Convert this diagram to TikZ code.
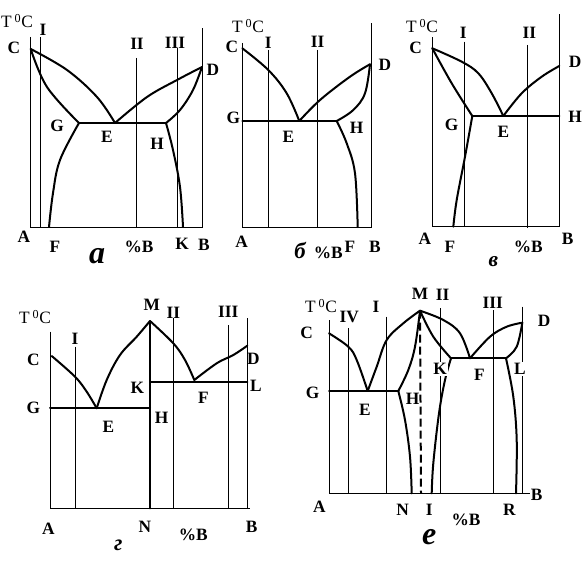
\documentclass[tikz,border=0pt]{standalone}
\usepackage{fontspec}
\setmainfont{Liberation Serif}
\begin{document}
\begin{tikzpicture}[x=0.75pt,y=-0.75pt,
  axis/.style={line width=0.75pt},
  curve/.style={line width=1.5pt, line join=round, line cap=round},
  lbl/.style={font=\bfseries\fontsize{13}{14}\selectfont, inner sep=0pt},
  wlbl/.style={lbl, fill=white, inner sep=1pt},
  tlbl/.style={font=\fontsize{13}{14}\selectfont, inner sep=0pt},
  plbl/.style={font=\bfseries\itshape\fontsize{#1}{#1}\selectfont, inner sep=0pt},
  sm/.style={smooth, tension=0.6}]
\useasboundingbox (0,0) rectangle (588,567);
\newcommand{\tdeg}{T\,\textsuperscript{0}C}

% ================= panel a =================
\coordinate (aC) at (30.7,49);
\coordinate (aD) at (202,67);
\coordinate (aG) at (79,123);
\coordinate (aE) at (115,123);
\coordinate (aH) at (166,123);
\coordinate (aF) at (49,227);
\coordinate (aK) at (183,227);
\coordinate (aA) at (30,227);
\coordinate (aB) at (202,227);
\draw[axis] (30,37) -- (aA) -- (aB) -- (202,28);
\draw[axis] (40,37) -- (40,228);
\draw[axis] (136,58) -- (136,228);
\draw[axis] (177,48) -- (177,227);
\draw[curve] plot[sm] coordinates {(aC) (67,70) (97,97) (aE)};
\draw[curve] plot[sm] coordinates {(aC) (47,87) (aG)};
\draw[curve] plot[sm] coordinates {(aG) (60,160) (53,193) (aF)};
\draw[curve] plot[sm] coordinates {(aE) (147,97) (177,80) (aD)};
\draw[curve] plot[sm] coordinates {(aH) (180,110) (193,90) (aD)};
\draw[curve] plot[sm] coordinates {(aH) (173,150) (180,187) (aK)};
\draw[curve] (aG) -- (aH);
\node[tlbl] (aT) at (17,21) {\tdeg};
\node[lbl] (aI) at (43,30) {I};
\node[lbl] (aCl) at (14,48) {C};
\node[lbl] (aII) at (137,44) {II};
\node[lbl] (aIII) at (175,43) {III};
\node[lbl] (aDl) at (213,70) {D};
\node[lbl] (aGl) at (57,126) {G};
\node[lbl] (aEl) at (107,137) {E};
\node[lbl] (aHl) at (157,144) {H};
\node[lbl] (aAl) at (24,237) {A};
\node[lbl] (aFl) at (55,247) {F};
\node[lbl] (aBp) at (139,247) {\%B};
\node[lbl] (aKl) at (182,244) {K};
\node[lbl] (aBl) at (204,245) {B};
\node[plbl=24] (aP) at (97,256) {а};

% ================= panel b =================
\coordinate (bC) at (242.3,48.3);
\coordinate (bD) at (370,64.3);
\coordinate (bG) at (242.3,121);
\coordinate (bE) at (299.3,121);
\coordinate (bH) at (336.7,121);
\coordinate (bF) at (357.7,227);
\coordinate (bA) at (242.3,227);
\coordinate (bB) at (371,227);
\draw[axis] (242.3,43) -- (bA) -- (bB) -- (371,23);
\draw[axis] (268.3,50) -- (268.3,227);
\draw[axis] (317.7,50) -- (317.7,227);
\draw[curve] plot[sm] coordinates {(bC) (268.3,70) (286.7,93.3) (bE)};
\draw[curve] plot[sm] coordinates {(bE) (320,100) (350,76.7) (bD)};
\draw[curve] plot[sm] coordinates {(bH) (353.3,110) (365,93.3) (bD)};
\draw[curve] plot[sm] coordinates {(bH) (346.7,143.3) (355,173.3) (bF)};
\draw[curve] (bG) -- (bH);
\node[tlbl] (bT) at (248,26) {\tdeg};
\node[lbl] (bCl) at (232,47) {C};
\node[lbl] (bI) at (268.3,43.3) {I};
\node[lbl] (bII) at (317.7,41.7) {II};
\node[lbl] (bDl) at (385,65) {D};
\node[lbl] (bGl) at (233.3,118.3) {G};
\node[lbl] (bEl) at (288.3,137.3) {E};
\node[lbl] (bHl) at (356.7,128.3) {H};
\node[lbl] (bAl) at (241.7,241.7) {A};
\node[plbl=17] (bP) at (300,250) {б};
\node[lbl] (bBp) at (328.3,253.3) {\%B};
\node[lbl] (bFl) at (350,246.7) {F};
\node[lbl] (bBl) at (375,247.3) {B};

% ================= panel v =================
\coordinate (vC) at (432.3,48.3);
\coordinate (vD) at (559.3,66);
\coordinate (vG) at (472.3,116);
\coordinate (vE) at (503.3,116);
\coordinate (vH) at (559.3,116);
\coordinate (vF) at (453.3,226.7);
\coordinate (vA) at (432.3,226.7);
\coordinate (vB) at (559.3,226.7);
\draw[axis] (432.3,37.3) -- (vA) -- (vB) -- (559.3,14);
\draw[axis] (464.3,41.7) -- (464.3,226.7);
\draw[axis] (527.3,45) -- (527.3,228);
\draw[curve] plot[sm] coordinates {(vC) (461.7,61.7) (478.3,73.3) (491.7,93.3) (vE)};
\draw[curve] plot[sm] coordinates {(vC) (451.7,83.3) (vG)};
\draw[curve] plot[sm] coordinates {(vG) (465,156.7) (456.7,200) (vF)};
\draw[curve] plot[sm] coordinates {(vE) (521.7,93.3) (541.7,76.7) (vD)};
\draw[curve] (vG) -- (vH);
\node[tlbl] (vT) at (422,26) {\tdeg};
\node[lbl] (vCl) at (415.7,48.3) {C};
\node[lbl] (vI) at (463.3,33.3) {I};
\node[lbl] (vII) at (529.3,33.3) {II};
\node[lbl] (vDl) at (575,61.7) {D};
\node[lbl] (vGl) at (451.7,125) {G};
\node[lbl] (vEl) at (503.3,131.7) {E};
\node[lbl] (vHl) at (575,116.7) {H};
\node[lbl] (vAl) at (425,238.3) {A};
\node[lbl] (vFl) at (450,246.7) {F};
\node[lbl] (vBp) at (528.3,246.7) {\%B};
\node[lbl] (vBl) at (567.7,239.3) {B};
\node[plbl=16] (vP) at (493.3,262) {в};

% ================= panel g =================
\coordinate (gC) at (51.7,356);
\coordinate (gE) at (96.7,408.3);
\coordinate (gG) at (50,408.3);
\coordinate (gH) at (150,408.3);
\coordinate (gM) at (150,321);
\coordinate (gK) at (150,381.7);
\coordinate (gL) at (247.3,381.7);
\coordinate (gF) at (194.3,380);
\coordinate (gD) at (247.3,345.7);
\coordinate (gA) at (50,508.3);
\coordinate (gN) at (150,508.3);
\coordinate (gB) at (250,508.3);
\draw[axis] (50,331.7) -- (gA) -- (gB);
\draw[axis] (247.3,318.3) -- (247.3,508.3);
\draw[axis] (75,346.7) -- (75,508.3);
\draw[axis] (173.3,318.3) -- (173.3,508.3);
\draw[axis] (228.3,325) -- (228.3,508.3);
\draw[curve] (gM) -- (gN);
\draw[curve] plot[sm] coordinates {(gC) (75,376.7) (86.7,391.7) (gE)};
\draw[curve] plot[sm] coordinates {(gE) (106.7,380) (120,355) (136.7,336.7) (gM)};
\draw[curve] plot[sm] coordinates {(gM) (173.3,343.3) (185,360) (gF)};
\draw[curve] plot[sm] coordinates {(gF) (216.7,363.3) (233.3,355) (gD)};
\draw[curve] (gG) -- (gH);
\draw[curve] (gK) -- (gL);
\node[tlbl] (gT) at (35,317) {\tdeg};
\node[lbl] (gI) at (75,339.3) {I};
\node[lbl] (gCl) at (33.3,360) {C};
\node[lbl] (gGl) at (33.3,408.3) {G};
\node[lbl] (gEl) at (108.3,426.7) {E};
\node[lbl] (gMl) at (151.7,305) {M};
\node[lbl] (gII) at (173.3,313.3) {II};
\node[lbl] (gIII) at (228.3,311.7) {III};
\node[lbl] (gDl) at (253.3,359.3) {D};
\node[lbl] (gLl) at (256,386) {L};
\node[lbl] (gKl) at (137.3,388.3) {K};
\node[lbl] (gFl) at (203.3,398.3) {F};
\node[lbl] (gHl) at (161.7,418.3) {H};
\node[lbl] (gAl) at (48.3,528.3) {A};
\node[lbl] (gNl) at (145,526.7) {N};
\node[lbl] (gBp) at (193.3,535) {\%B};
\node[lbl] (gBl) at (251.7,526.7) {B};
\node[plbl=17] (gP) at (118.3,545) {г};

% ================= panel e =================
\coordinate (eM) at (420,310.7);
\coordinate (eC) at (329,333.3);
\coordinate (eE) at (367.7,391);
\coordinate (eG) at (329,391);
\coordinate (eH) at (398.3,391);
\coordinate (eK) at (451,358.3);
\coordinate (eL) at (506,358.3);
\coordinate (eF) at (470,358.3);
\coordinate (eD) at (522.3,322.7);
\coordinate (eN) at (411.7,493.3);
\coordinate (eI) at (431.7,493.3);
\coordinate (eR) at (516,493.3);
\coordinate (eA) at (329,493.3);
\coordinate (eB) at (530,493.3);
\draw[axis] (329,320) -- (eA) -- (eB);
\draw[axis] (522.3,306.7) -- (522.3,493.3);
\draw[axis] (348.3,328.3) -- (348.3,493.3);
\draw[axis] (386,316.7) -- (386,493.3);
\draw[axis] (440,308.3) -- (440,493.3);
\draw[axis] (493.3,310) -- (493.3,493.3);
\draw[line width=1.5pt, dash pattern=on 6pt off 3pt] (eM) -- (421,493.3);
\draw[curve] plot[sm] coordinates {(eC) (348.3,346.7) (356.7,360) (eE)};
\draw[curve] plot[sm] coordinates {(eE) (376.7,366.7) (386.7,340) (403.3,323.3) (eM)};
\draw[curve] plot[sm] coordinates {(eM) (415,346.7) (408.3,370) (eH)};
\draw[curve] plot[sm] coordinates {(eH) (405,420) (410,456.7) (eN)};
\draw[curve] plot[sm] coordinates {(eM) (433.3,336.7) (eK)};
\draw[curve] plot[sm] coordinates {(eK) (445,380) (439,413.3) (433.3,463.3) (eI)};
\draw[curve] plot[sm] coordinates {(eM) (443.3,320) (460,333.3) (eF)};
\draw[curve] plot[sm] coordinates {(eF) (490,336.7) (506.7,326.7) (eD)};
\draw[curve] plot[sm] coordinates {(eL) (516.7,346.7) (eD)};
\draw[curve] plot[sm] coordinates {(eL) (513.3,396.7) (516.7,440) (eR)};
\draw[curve] (eG) -- (eH);
\draw[curve] (eK) -- (eL);
\node[tlbl] (eT) at (321,306) {\tdeg};
\node[lbl] (eIV) at (349.3,316.7) {IV};
\node[lbl] (eIl) at (376,306.7) {I};
\node[lbl] (eMl) at (420,294) {M};
\node[lbl] (eII) at (442.7,295) {II};
\node[lbl] (eIII) at (492.7,303.3) {III};
\node[lbl] (eDl) at (544,320.7) {D};
\node[lbl] (eCl) at (306.7,332.7) {C};
\node[wlbl] (eKl) at (440,369.3) {K};
\node[lbl] (eFl) at (479.3,375) {F};
\node[wlbl] (eLl) at (520,369.3) {L};
\node[lbl] (eGl) at (312.7,393.3) {G};
\node[lbl] (eEl) at (365,410) {E};
\node[lbl] (eHl) at (412.7,399.3) {H};
\node[lbl] (eAl) at (319.3,506.7) {A};
\node[lbl] (eNl) at (402.7,510) {N};
\node[lbl] (eIb) at (429.3,510) {I};
\node[lbl] (eBp) at (466,520) {\%B};
\node[lbl] (eRl) at (509.3,510) {R};
\node[lbl] (eBl) at (536.7,495) {B};
\node[plbl=24] (eP) at (429.3,537) {е};
\end{tikzpicture}
\end{document}
